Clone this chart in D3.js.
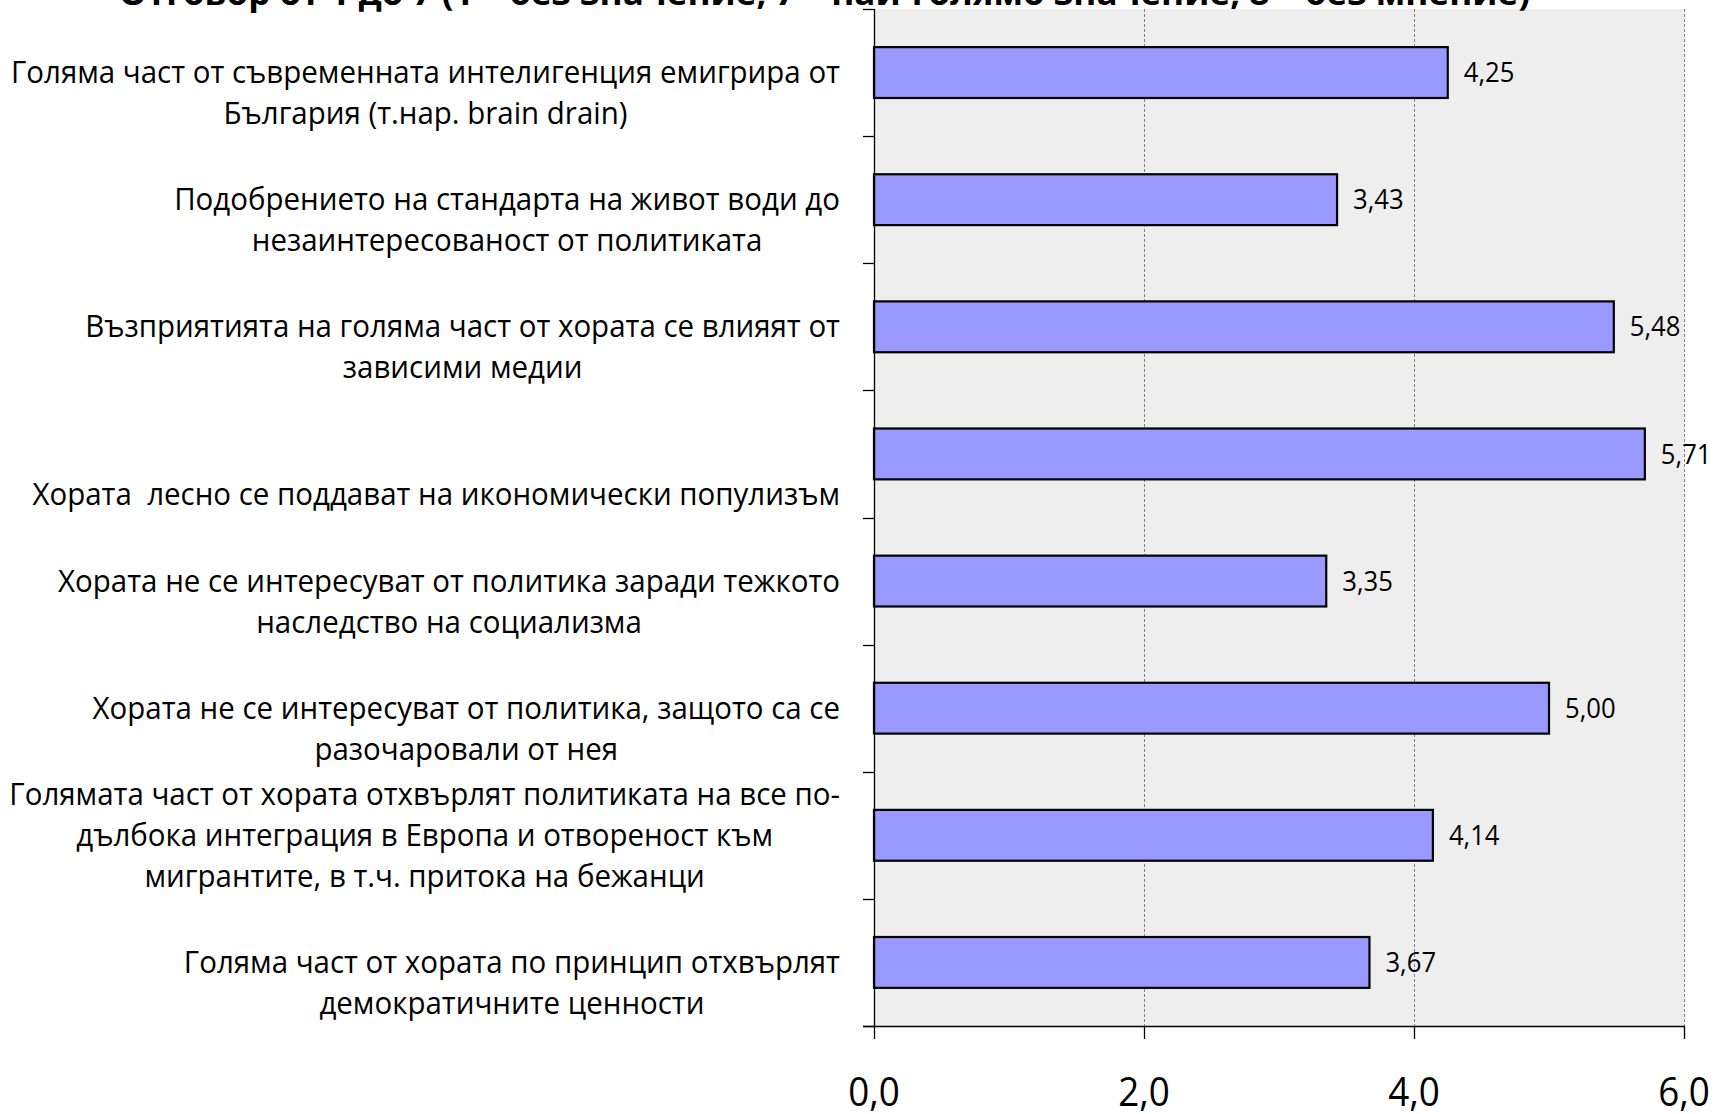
<!DOCTYPE html>
<html>
<head>
<meta charset="utf-8">
<script src="https://cdn.jsdelivr.net/npm/d3@7"></script>
<style>
  html, body { margin: 0; padding: 0; background: #ffffff; }
  svg { display: block; }
  text { font-family: "Open Sans", "Noto Sans", sans-serif; fill: #000; white-space: pre; }
</style>
</head>
<body>
<svg id="chart" width="1716" height="1114"></svg>
<script>
// ---- data ----
const titleText = "Отговор от 1 до 7 (1 – без значение, 7 – най-голямо значение, 8 – без мнение)";
const categories = [
  ["", "Голяма част от съвременната интелигенция емигрира от", "България (т.нар. brain drain)"],
  ["", "Подобрението на стандарта на живот води до", "незаинтересованост от политиката"],
  ["", "Възприятията на голяма част от хората се влияят от", "зависими медии"],
  ["", "", "Хората  лесно се поддават на икономически популизъм"],
  ["", "Хората не се интересуват от политика заради тежкото", "наследство на социализма"],
  ["", "Хората не се интересуват от политика, защото са се", "разочаровали от нея"],
  ["Голямата част от хората отхвърлят политиката на все по-", "дълбока интеграция в Европа и отвореност към", "мигрантите, в т.ч. притока на бежанци"],
  ["", "Голяма част от хората по принцип отхвърлят", "демократичните ценности"]
];
const values = [4.25, 3.43, 5.48, 5.71, 3.35, 5.00, 4.14, 3.67];
const valueLabels = ["4,25", "3,43", "5,48", "5,71", "3,35", "5,00", "4,14", "3,67"];
const xTicks = [0, 2, 4, 6];
const xTickLabels = ["0,0", "2,0", "4,0", "6,0"];

// ---- layout ----
const svg = d3.select("#chart");
const plot = { left: 874, right: 1684, top: 9, bottom: 1026 };

const x = d3.scaleLinear().domain([0, 6]).range([plot.left, plot.right]);
const idx = d3.range(categories.length);
const y = d3.scaleBand().domain(idx).range([plot.top, plot.bottom]).paddingInner(0.6).paddingOuter(0.3);
const step = y.step();

// background
svg.append("rect")
  .attr("x", plot.left).attr("y", plot.top)
  .attr("width", plot.right - plot.left).attr("height", plot.bottom - plot.top)
  .attr("fill", "#eeeeee");

// gridlines
svg.append("g").selectAll("line").data(xTicks.filter(d => d > 0)).join("line")
  .attr("x1", d => Math.round(x(d)) + 0.5).attr("x2", d => Math.round(x(d)) + 0.5)
  .attr("y1", plot.top).attr("y2", plot.bottom)
  .attr("stroke", "#808080").attr("stroke-width", 1).attr("stroke-dasharray", "3,2");

// bars
svg.append("g").selectAll("rect").data(values).join("rect")
  .attr("x", x(0))
  .attr("y", (d, i) => y(i))
  .attr("width", d => x(d) - x(0))
  .attr("height", y.bandwidth())
  .attr("fill", "#9999ff")
  .attr("stroke", "#000").attr("stroke-width", 2.2);

// value labels
const vFs = 27;
svg.append("g").selectAll("text").data(values).join("text")
  .attr("x", d => x(d) + 16)
  .attr("y", (d, i) => y(i) + y.bandwidth() / 2 + 0.357 * vFs)
  .attr("font-size", vFs)
  .text((d, i) => valueLabels[i])
  .each(function() {
    const w = this.getComputedTextLength();
    d3.select(this).attr("textLength", w * 0.95).attr("lengthAdjust", "spacingAndGlyphs");
  });

// left axis
const ax = svg.append("g");
ax.append("line")
  .attr("x1", plot.left + 0.5).attr("x2", plot.left + 0.5)
  .attr("y1", plot.top).attr("y2", plot.bottom)
  .attr("stroke", "#000").attr("stroke-width", 1.3);
ax.selectAll("line.tk").data(d3.range(categories.length + 1)).join("line")
  .attr("class", "tk")
  .attr("x1", plot.left - 11).attr("x2", plot.left)
  .attr("y1", d => Math.round(plot.top + d * step) + 0.5)
  .attr("y2", d => Math.round(plot.top + d * step) + 0.5)
  .attr("stroke", "#000").attr("stroke-width", 1.3);

// bottom axis
const bx = svg.append("g");
bx.append("line")
  .attr("x1", plot.left - 11).attr("x2", plot.right)
  .attr("y1", plot.bottom + 0.5).attr("y2", plot.bottom + 0.5)
  .attr("stroke", "#000").attr("stroke-width", 1.3);
bx.selectAll("line.tk").data(xTicks).join("line")
  .attr("class", "tk")
  .attr("x1", d => Math.round(x(d)) + 0.5).attr("x2", d => Math.round(x(d)) + 0.5)
  .attr("y1", plot.bottom).attr("y2", plot.bottom + 13)
  .attr("stroke", "#000").attr("stroke-width", 1.3);
const tFs = 40;
bx.selectAll("text").data(xTicks).join("text")
  .attr("font-size", tFs)
  .text((d, i) => xTickLabels[i])
  .each(function(d) {
    const w = this.getComputedTextLength();
    const k = 0.92;
    d3.select(this)
      .attr("x", x(d) - w * k / 2)
      .attr("y", 1106)
      .attr("textLength", w * k).attr("lengthAdjust", "spacingAndGlyphs");
  });

// category labels
const cFs = 31;
const lineH = 41;
const blockRight = 840;
const cg = svg.append("g");
// measure global compression factor from widest line
const probe = cg.append("text").attr("font-size", cFs).text(categories[0][1]);
const kC = 829 / probe.node().getComputedTextLength();
probe.remove();
categories.forEach((lines, i) => {
  const cy = y(i) + y.bandwidth() / 2;
  const nodes = [];
  lines.forEach((ln, j) => {
    const t = cg.append("text").attr("font-size", cFs).text(ln);
    nodes.push({ t, w: ln ? t.node().getComputedTextLength() * kC : 0, j });
  });
  const maxW = d3.max(nodes, d => d.w);
  const cx = blockRight - maxW / 2;
  nodes.forEach(({ t, w, j }) => {
    const ly = cy + (j - (lines.length - 1) / 2) * lineH;
    t.attr("x", cx - w / 2).attr("y", ly + 0.34 * cFs);
    if (w > 0) t.attr("textLength", w).attr("lengthAdjust", "spacingAndGlyphs");
  });
});

// title (cut off at the top, as in the source)
const ttl = svg.append("text")
  .attr("font-size", 34).attr("font-weight", "bold")
  .text(titleText);
ttl.attr("x", 119).attr("y", 5)
  .attr("textLength", 1411).attr("lengthAdjust", "spacingAndGlyphs");
</script>
</body>
</html>
